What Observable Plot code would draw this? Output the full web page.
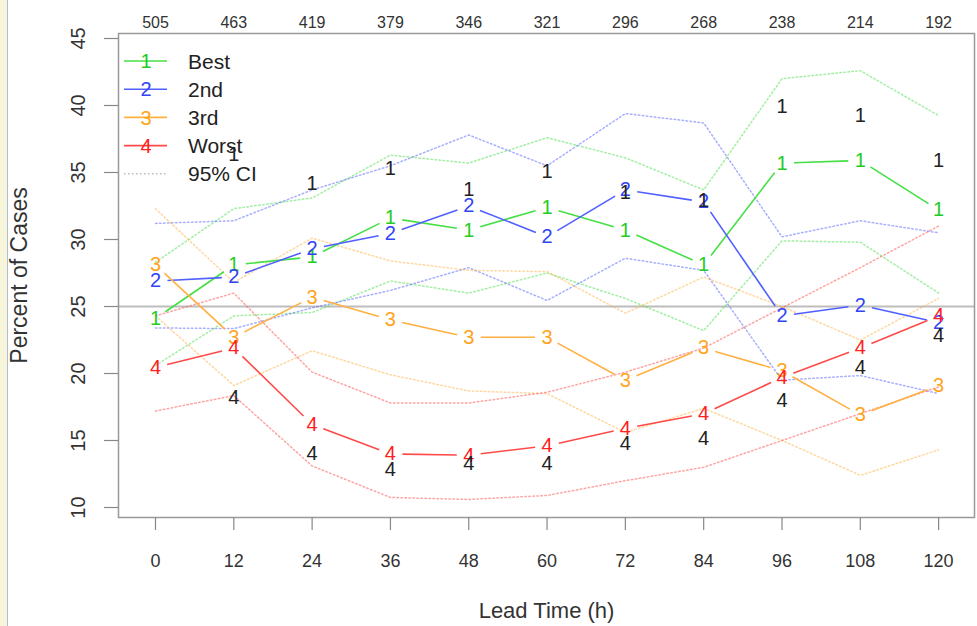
<!DOCTYPE html>
<html><head><meta charset="utf-8">
<script src="https://cdn.jsdelivr.net/npm/d3@7"></script>
<script src="https://cdn.jsdelivr.net/npm/@observablehq/plot@0.6"></script>
<style>
body{margin:0;background:#fff;}
#wrap{position:relative;width:977px;height:626px;overflow:hidden;background:#fff;font-family:"Liberation Sans",Arial,Helvetica,sans-serif;}
#strip{position:absolute;left:0;top:0;width:7px;height:626px;background:#f7f5da;border-right:1px solid #b3bbdc;z-index:2;}
#legend{position:absolute;left:0;top:0;z-index:3;}
</style></head><body><div id="wrap"><div id="strip"></div></div>
<script>
// ---- data ----
const leadTime = [0, 12, 24, 36, 48, 60, 72, 84, 96, 108, 120];
const counts   = [505, 463, 419, 379, 346, 321, 296, 268, 238, 214, 192];
const yTicks   = [10, 15, 20, 25, 30, 35, 40, 45];

const best   = [24.1, 28.1, 28.7, 31.6, 30.7, 32.4, 30.7, 28.1, 35.7, 35.9, 32.2];
const second = [26.9, 27.2, 29.3, 30.45, 32.5, 30.2, 33.7, 32.8, 24.3, 25.1, 23.8];
const third  = [28.1, 22.7, 25.7, 24.0, 22.7, 22.7, 19.5, 21.9, 20.2, 16.9, 19.1];
const worst  = [20.45, 21.9, 16.2, 14.0, 13.9, 14.6, 15.9, 17.0, 19.7, 21.9, 24.3];

const bestHi   = [28.3, 32.3, 33.1, 36.3, 35.7, 37.6, 36.1, 33.7, 42.0, 42.6, 39.25];
const bestLo   = [20.6, 24.3, 24.55, 26.9, 26.0, 27.5, 25.6, 23.2, 29.9, 29.8, 26.0];
const secondHi = [31.2, 31.4, 33.7, 35.5, 37.8, 35.5, 39.4, 38.7, 30.2, 31.4, 30.5];
const secondLo = [23.4, 23.35, 24.9, 26.2, 27.9, 25.45, 28.6, 27.7, 19.5, 19.85, 18.5];
const thirdHi  = [32.3, 26.8, 30.1, 28.4, 27.7, 27.6, 24.5, 27.2, 25.0, 22.5, 25.6];
const thirdLo  = [24.3, 19.1, 21.7, 19.9, 18.7, 18.5, 15.6, 17.4, 15.0, 12.4, 14.3];
const worstHi  = [24.3, 26.0, 20.1, 17.8, 17.8, 18.6, 20.1, 21.9, 24.9, 27.9, 31.0];
const worstLo  = [17.2, 18.35, 13.1, 10.75, 10.6, 10.9, 12.0, 13.0, 15.0, 17.0, 19.0];

const other1 = [null, 36.3, 34.2, 35.3, 33.7, 35.1, 33.5, 32.9, 39.9, 39.25, 35.9];
const other4 = [null, 18.2, 14.0, 12.8, 13.3, 13.3, 14.8, 15.15, 18.0, 20.45, 22.8];

const legendLabels = ["Best", "2nd", "3rd", "Worst", "95% CI"];
const legendKeys   = ["1", "2", "3", "4", ""];

// ---- layout ----
const W = 977, H = 626, mL = 118, mR = 3, mT = 33, mB = 109;
const xDomain = [-5.67, 125.5], yDomain = [9.254, 45.373];
const kx = (W - mL - mR) / (xDomain[1] - xDomain[0]);
const ky = (H - mT - mB) / (yDomain[1] - yDomain[0]);

const series = [
  {key: "1", vals: best,   hi: bestHi,   lo: bestLo,   line: "#44e044", text: "#22cc22"},
  {key: "2", vals: second, hi: secondHi, lo: secondLo, line: "#5060ff", text: "#3045f5"},
  {key: "3", vals: third,  hi: thirdHi,  lo: thirdLo,  line: "#ffb040", text: "#ffa31a"},
  {key: "4", vals: worst,  hi: worstHi,  lo: worstLo,  line: "#ff4a4a", text: "#ff2020"}
];

function rows(vals) {
  return leadTime.map((t, i) => ({t, v: vals[i]})).filter(d => d.v != null);
}
function gapSegs(vals, gap) {
  const out = [];
  for (let i = 0; i < leadTime.length - 1; i++) {
    const x1 = leadTime[i], x2 = leadTime[i + 1], y1 = vals[i], y2 = vals[i + 1];
    const L = Math.hypot((x2 - x1) * kx, (y2 - y1) * ky);
    if (L <= 2 * gap) continue;
    const f = gap / L;
    out.push({x1: x1 + (x2 - x1) * f, y1: y1 + (y2 - y1) * f, x2: x2 - (x2 - x1) * f, y2: y2 - (y2 - y1) * f});
  }
  return out;
}

const marks = [
  Plot.ruleY([25], {stroke: "#bdbdbd", strokeWidth: 2})
];
for (const s of series) {
  for (const ci of [s.hi, s.lo]) {
    marks.push(Plot.line(rows(ci), {x: "t", y: "v", stroke: s.line, strokeWidth: 1.5,
      strokeOpacity: 0.5, strokeDasharray: "1.5 2.5"}));
  }
}
for (const s of series) {
  marks.push(Plot.link(gapSegs(s.vals, 12), {x1: "x1", y1: "y1", x2: "x2", y2: "y2",
    stroke: s.line, strokeWidth: 1.6}));
  marks.push(Plot.text(rows(s.vals), {x: "t", y: "v", text: () => s.key, fill: s.text, fontSize: 20}));
}
marks.push(Plot.text(rows(other1), {x: "t", y: "v", text: () => "1", fill: "#222", fontSize: 20}));
marks.push(Plot.text(rows(other4), {x: "t", y: "v", text: () => "4", fill: "#222", fontSize: 20}));

marks.push(Plot.frame({stroke: "#999", strokeWidth: 1.5}));
marks.push(Plot.axisX({anchor: "bottom", ticks: leadTime, tickSize: 13, tickPadding: 24,
  stroke: "#888", strokeWidth: 1.2, fill: "#333", fontSize: 18, label: null}));
marks.push(Plot.axisX({anchor: "bottom", ticks: [], label: "Lead Time (h)", labelAnchor: "center",
  labelOffset: 100, labelArrow: "none", fill: "#333", fontSize: 22}));
marks.push(Plot.axisX({anchor: "top", ticks: leadTime, tickSize: 0, tickPadding: 6,
  tickFormat: d => counts[leadTime.indexOf(d)], fill: "#333", fontSize: 16, label: null}));
marks.push(Plot.axisY({anchor: "left", ticks: yTicks, tickSize: 14, tickPadding: 20, tickRotate: -90,
  stroke: "#888", strokeWidth: 1.2, fill: "#333", fontSize: 20, label: null}));
marks.push(Plot.axisY({anchor: "left", ticks: [], label: "Percent of Cases", labelAnchor: "center",
  labelOffset: 108, labelArrow: "none", fill: "#333", fontSize: 23}));

const chart = Plot.plot({
  width: W, height: H,
  marginLeft: mL, marginRight: mR, marginTop: mT, marginBottom: mB,
  style: {fontFamily: "Liberation Sans, Arial, Helvetica, sans-serif", fontSize: "17px", background: "transparent", color: "#333"},
  x: {domain: xDomain, axis: null},
  y: {domain: yDomain, axis: null},
  marks
});
document.getElementById("wrap").appendChild(chart);

// ---- legend overlay ----
const legColors = [...series.map(s => s.line), "#bbbbbb"];
const legText = [...series.map(s => s.text), "#bbbbbb"];
const lg = d3.select("#wrap").append("svg").attr("id", "legend").attr("width", 300).attr("height", 200)
  .style("font-family", "Liberation Sans, Arial, Helvetica, sans-serif");
legendLabels.forEach((lab, i) => {
  const cy = 61 + i * 28.2;
  const g = lg.append("g");
  g.append("line").attr("x1", 124).attr("x2", 167).attr("y1", cy).attr("y2", cy)
    .attr("stroke", legColors[i]).attr("stroke-width", i < 4 ? 1.6 : 1.5)
    .attr("stroke-dasharray", i < 4 ? null : "1.5 2.5");
  if (legendKeys[i]) g.append("text").attr("x", 146).attr("y", cy).attr("dy", "0.36em")
    .attr("text-anchor", "middle").attr("font-size", 20).attr("fill", legText[i]).text(legendKeys[i]);
  g.append("text").attr("x", 188).attr("y", cy).attr("dy", "0.36em").attr("font-size", 21)
    .attr("fill", "#222").text(lab);
});
</script></body></html>
